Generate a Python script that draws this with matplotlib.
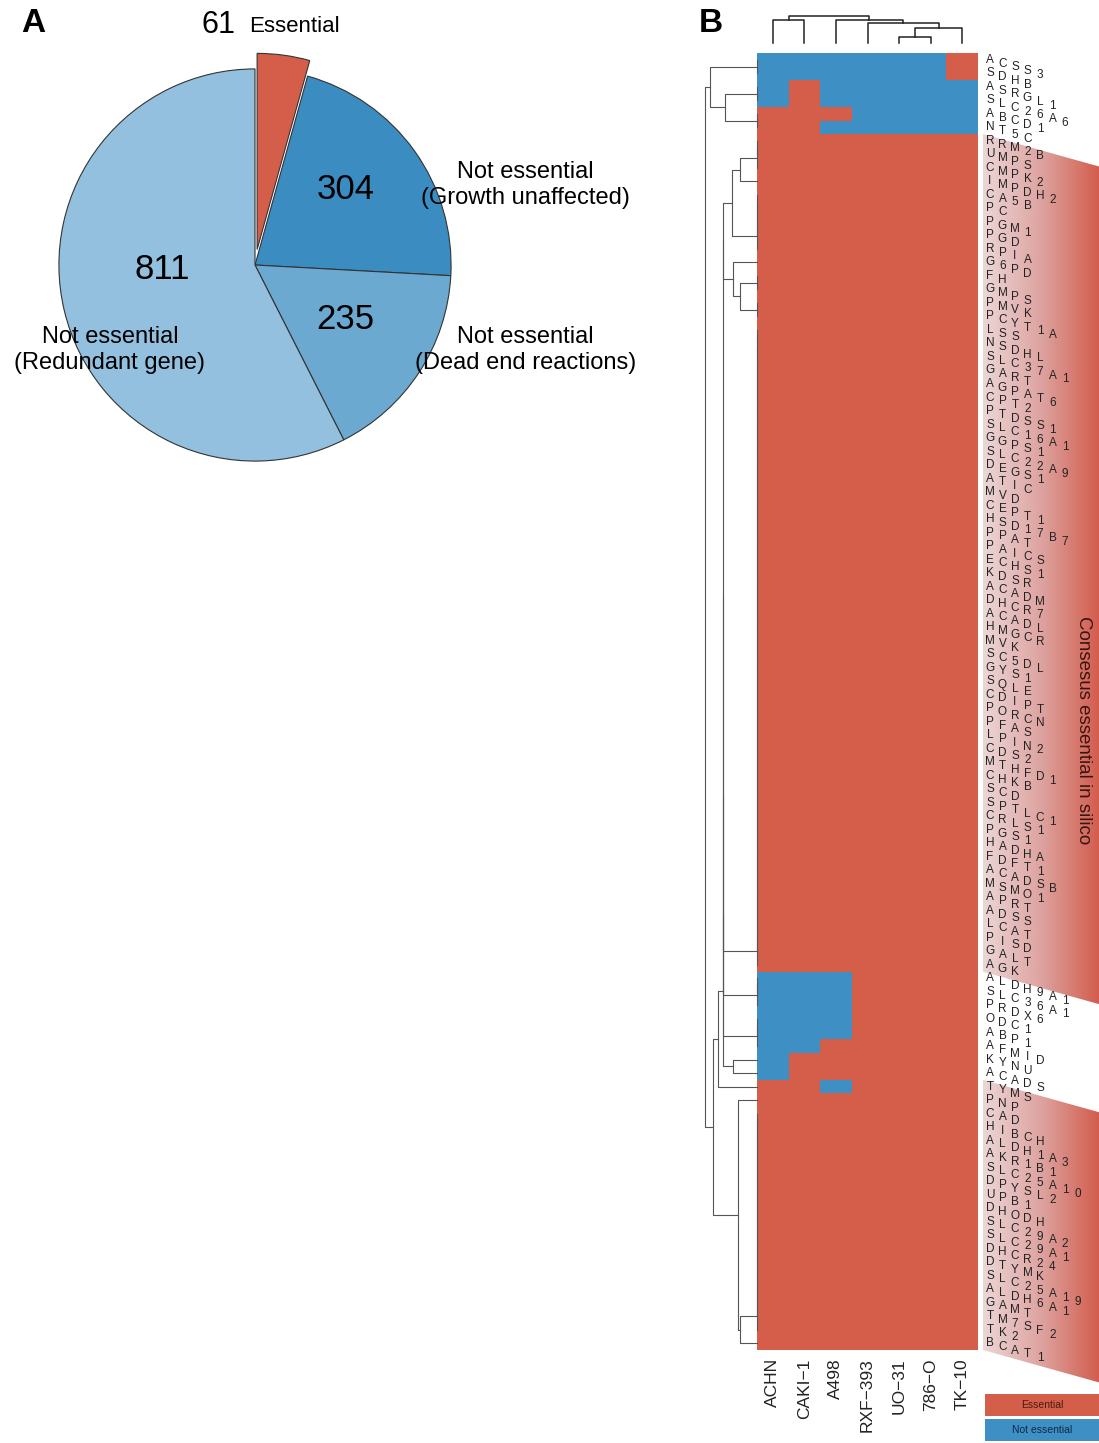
import matplotlib.pyplot as plt
import numpy as np
from matplotlib.colors import ListedColormap, LinearSegmentedColormap
from matplotlib.patches import Polygon, Rectangle

plt.rcParams["font.family"] = ["Liberation Sans", "DejaVu Sans"]

W, H = 1099, 1443
RED = "#D45E4A"
BLUE = "#3E8FC3"

# ---- panel A data
pie_counts = [61, 304, 235, 811]
pie_colors = [RED, "#3B8CC1", "#6BA9D0", "#92C0DE"]
pie_texts = [
    "Essential",
    "Not essential\n(Growth unaffected)",
    "Not essential\n(Dead end reactions)",
    "Not essential\n(Redundant gene)",
]

# ---- panel B data
cell_lines = ["ACHN", "CAKI\u22121", "A498", "RXF\u2212393", "UO\u221231", "786\u2212O", "TK\u221210"]
genes = [
    "ACSS3", "SDHB", "ASRGL1", "SLC26A6", "ABCD1", "NT5C", "RRM2B", "UMPS",
    "CMPK2", "IMPDH2", "CA5B", "PC", "PGM1", "PGD", "RPIA", "G6PD", "FH",
    "GMPS", "PMVK", "PCYT1A", "LSS", "NSDHL", "SLC37A1", "GART", "AGPAT6",
    "CPT2", "PTDSS1", "SLC16A1", "GGPS1", "SLC22A9", "DEGS1", "ATIC", "MVD",
    "CEPT1", "HSD17B7", "PPAT", "PAICS", "ECHS1", "KDSR", "ACADM", "DHCR7",
    "ACADL", "HMGCR", "MVK", "SC5DL", "GYS1", "SQLE", "CDIPT", "PORCN",
    "PFAS", "LPIN2", "CDS2", "MTHFD1", "CHKB", "SCD", "SPTLC1", "CRLS1",
    "PGS1", "HADHA", "FDFT1", "ACADSB", "MSMO1", "APRT", "ADSS", "LCAT",
    "PISD", "GALT", "AGK", "ALDH9A1", "SLC36A1", "PRDX6", "ODC1", "ABP1",
    "AFMID", "KYNU", "ACADS", "TYMS", "PNP", "CAD", "HIBCH", "ALDH1A3",
    "AKR1B1", "SLC25A10", "DPYSL2", "UPB1", "DHODH", "SLC29A2", "SLC29A1",
    "DHCR24", "DTYMK", "SLC25A19", "ALDH6A1", "GAMT", "TM7SF2", "TK2", "BCAT1",
]
# 1 = essential, 0 = not essential (per cell line); all other genes essential everywhere
partial_rows = {
    "ACSS3": "0000001", "SDHB": "0000001", "ASRGL1": "0100000",
    "SLC26A6": "0100000", "ABCD1": "1110000", "NT5C": "1100000",
    "ALDH9A1": "0001111", "SLC36A1": "0001111", "PRDX6": "0001111",
    "ODC1": "0001111", "ABP1": "0001111", "AFMID": "0011111",
    "KYNU": "0111111", "ACADS": "0111111", "TYMS": "1101111",
}
consensus_blocks = [("RRM2B", "AGK"), ("TYMS", "BCAT1")]


def leaf_chain(a, b):
    node = a
    for k in range(a + 1, b + 1):
        node = (node, k, 0.0)
    return node


def comb(children, h):
    node = children[0]
    for c in children[1:]:
        node = (node, c, h)
    return node


# row dendrogram (merge heights, 1 = root)
row_A = (leaf_chain(0, 1), (leaf_chain(2, 3), leaf_chain(4, 5), 0.62), 0.9)
row_c2 = ((leaf_chain(6, 8), 9, 0.33), leaf_chain(10, 14), 0.48)
row_c4 = (15, (leaf_chain(16, 17), leaf_chain(18, 19), 0.33), 0.46)
row_F = comb([row_c2, row_c4, leaf_chain(20, 67), leaf_chain(68, 70),
              leaf_chain(71, 73), (74, 75, 0.46)], 0.65)
row_E = (77, (leaf_chain(78, 94), 95, 0.33), 0.36)
row_tree = (row_A, ((row_F, 76, 0.75), row_E, 0.85), 1.0)

# column dendrogram
col_tree = ((0, 1, 0.85), (2, (3, ((4, 5, 0.22), 6, 0.56), 0.74), 0.85), 1.0)


def draw_tree(ax, node, orient, **kw):
    if isinstance(node, int):
        return node + 0.5, 0.0
    left, right, h = node
    p1, h1 = draw_tree(ax, left, orient, **kw)
    p2, h2 = draw_tree(ax, right, orient, **kw)
    if orient == "rows":
        ax.plot([h1, h, h, h2], [p1, p1, p2, p2], clip_on=False, **kw)
    else:
        ax.plot([p1, p1, p2, p2], [h1, h, h, h2], clip_on=False, **kw)
    return (p1 + p2) / 2, h


def px_axes(fig, x0, y0, x1, y1):
    return fig.add_axes([x0 / W, 1 - y1 / H, (x1 - x0) / W, (y1 - y0) / H])


fig = plt.figure(figsize=(W / 100, H / 100), dpi=100)

# ---------------- panel A: pie
ax = px_axes(fig, 25, 35, 485, 495)
ax.pie(pie_counts, colors=pie_colors, startangle=90, counterclock=False,
       explode=[0.08, 0, 0, 0], radius=1,
       wedgeprops=dict(edgecolor="#333333", linewidth=0.8))
ax.set_xlim(-1.173, 1.173)
ax.set_ylim(-1.173, 1.173)
ax.set_aspect("equal")
ax.axis("off")
ax.text(-0.10, 1.225, str(pie_counts[0]), fontsize=22, ha="right", va="center")
ax.text(-0.03, 1.215, pie_texts[0], fontsize=16, ha="left", va="center")
ax.text(0.46, 0.385, str(pie_counts[1]), fontsize=25, ha="center", va="center")
ax.text(0.46, -0.28, str(pie_counts[2]), fontsize=25, ha="center", va="center")
ax.text(-0.475, -0.025, str(pie_counts[3]), fontsize=25, ha="center", va="center")
ax.text(1.378, 0.408, pie_texts[1], fontsize=17, ha="center", va="center")
ax.text(1.378, -0.434, pie_texts[2], fontsize=17, ha="center", va="center")
ax.text(-0.74, -0.434, pie_texts[3], fontsize=17, ha="center", va="center")

fig.text(33 / W, 1 - 23 / H, "A", fontsize=24, fontweight="bold", ha="center", va="center")
fig.text(711 / W, 1 - 23 / H, "B", fontsize=24, fontweight="bold", ha="center", va="center")

# ---------------- panel B: heatmap
n_rows, n_cols = len(genes), len(cell_lines)
mat = np.ones((n_rows, n_cols))
for i, g in enumerate(genes):
    if g in partial_rows:
        mat[i] = [int(c) for c in partial_rows[g]]

hm = px_axes(fig, 757, 53, 978, 1350)
hm.imshow(mat, cmap=ListedColormap([BLUE, RED]), aspect="auto",
          interpolation="nearest", extent=(0, n_cols, n_rows, 0), vmin=0, vmax=1)
hm.set_xticks(np.arange(n_cols) + 0.5)
hm.set_xticklabels(cell_lines, rotation=90, fontsize=12.5, color="#222222")
hm.tick_params(axis="x", length=0, pad=6)
hm.set_yticks([])
for s in hm.spines.values():
    s.set_visible(False)

# row dendrogram
rd = px_axes(fig, 700, 53, 757, 1350)
draw_tree(rd, row_tree, "rows", color="#555555", lw=0.8)
rd.set_xlim(57 / 52, 0)
rd.set_ylim(n_rows, 0)
rd.axis("off")

# column dendrogram
cd = px_axes(fig, 757, 10, 978, 43)
draw_tree(cd, col_tree, "cols", color="#222222", lw=1.1)
cd.set_xlim(0, n_cols)
cd.set_ylim(0, 33 / 27)
cd.axis("off")

# labels + consensus wedges
lab = px_axes(fig, 978, 53, 1099, 1390)
ymax = n_rows * (1390 - 53) / (1350 - 53)
grad = np.linspace(0, 1, 256).reshape(1, -1)
wedge_cmap = LinearSegmentedColormap.from_list("wedge", ["#ECD6D6", "#DDA3A0", "#D25C4C"])
for g0, g1 in consensus_blocks:
    r0 = genes.index(g0)
    r1 = genes.index(g1) + 1
    poly = Polygon([(0.041, r0), (1, r0 + 2.4), (1, r1 + 2.4), (0.041, r1)],
                   closed=True, facecolor="none", edgecolor="none",
                   transform=lab.transData)
    lab.add_patch(poly)
    im = lab.imshow(grad, cmap=wedge_cmap, aspect="auto", zorder=0,
                    extent=(0.041, 1, r1 + 3, r0))
    im.set_clip_path(poly)

step, drop = 9.0, 2.7
for i, g in enumerate(genes):
    for j, ch in enumerate(g):
        lab.annotate(ch, xy=(0.099, i + 0.5), xytext=(j * step, -j * drop),
                     textcoords="offset points", ha="center", va="center",
                     fontsize=8.5, color="#222222", zorder=3)
lab.text(0.868, 50.1, "Consesus essential in silico", rotation=-90,
         fontsize=13.5, color="#3a1410", ha="center", va="center")
lab.set_xlim(0, 1)
lab.set_ylim(ymax, 0)
lab.axis("off")

# legend
lg = px_axes(fig, 985, 1393, 1099, 1441)
lg.add_patch(Rectangle((0, 0.52), 1, 0.46, facecolor=RED, edgecolor="none"))
lg.add_patch(Rectangle((0, 0.0), 1, 0.46, facecolor=BLUE, edgecolor="none"))
lg.text(0.5, 0.75, "Essential", fontsize=7.5, color="#4a1a10", ha="center", va="center")
lg.text(0.5, 0.23, "Not essential", fontsize=7.5, color="#0d2a48", ha="center", va="center")
lg.set_xlim(0, 1)
lg.set_ylim(0, 1)
lg.axis("off")

fig.savefig("out.png", dpi=100)
